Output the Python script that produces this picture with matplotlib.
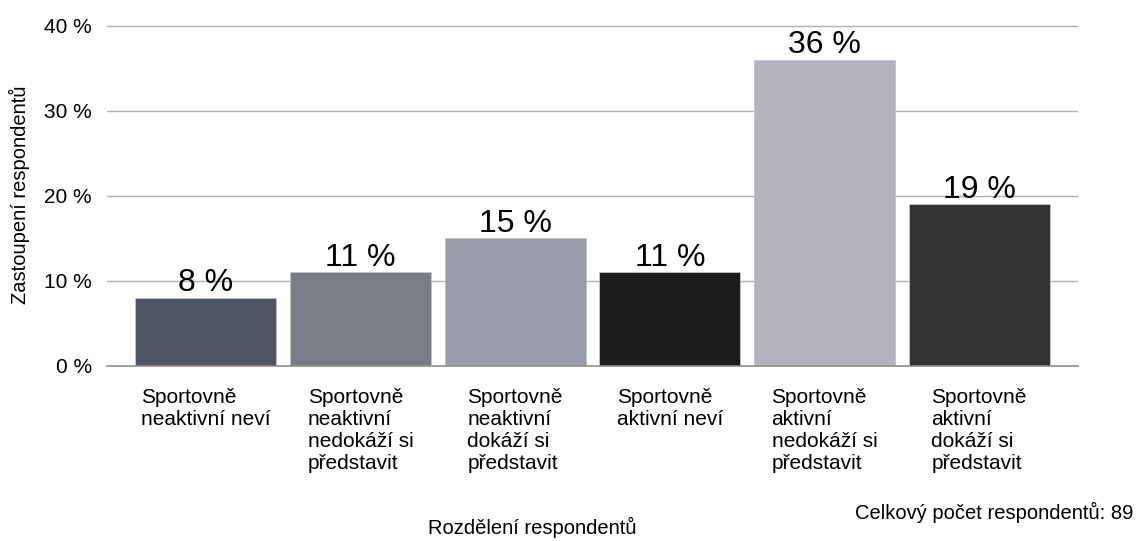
import matplotlib
matplotlib.use("Agg")
import matplotlib.pyplot as plt

plt.rcParams['font.family'] = ['Liberation Sans', 'DejaVu Sans']

# data
categories = [
    "Sportovně\nneaktivní neví",
    "Sportovně\nneaktivní\nnedokáží si\npředstavit",
    "Sportovně\nneaktivní\ndokáží si\npředstavit",
    "Sportovně\naktivní neví",
    "Sportovně\naktivní\nnedokáží si\npředstavit",
    "Sportovně\naktivní\ndokáží si\npředstavit",
]
shares = [8, 11, 15, 11, 36, 19]
yticks = [0, 10, 20, 30, 40]
bar_colors = ['#4f5561', '#787d88', '#989ca9', '#1c1c1c', '#b3b3bd', '#333333']
total_respondents = 89

fig = plt.figure(figsize=(11.37, 5.41), dpi=100)
ax = fig.add_axes([0.0941, 0.3235, 0.8540, 0.6332])

x = list(range(len(categories)))
ax.bar(x, shares, width=0.912, color=bar_colors, edgecolor='#c4c4c4',
       linewidth=0.6, zorder=3)

for xi, v in zip(x, shares):
    ax.annotate(f"{v} %", (xi, v), xytext=(0, 5), textcoords='offset points',
                ha='center', va='baseline', fontsize=23, zorder=4)

ax.set_xlim(-0.64, len(categories) - 1 + 0.64)
ax.set_ylim(0, 40.3)
ax.set_yticks(yticks)
ax.set_yticklabels([f"{t} %" for t in yticks], fontsize=15)
ax.set_xticks(x)
ax.set_xticklabels(categories, fontsize=15, linespacing=1.2,
                   multialignment='left')
ax.tick_params(axis='both', length=0)
ax.tick_params(axis='y', pad=11)
ax.tick_params(axis='x', pad=16)

ax.yaxis.grid(True, color='#b0b0b0', linewidth=1.0, zorder=0)
for side in ['top', 'right', 'left']:
    ax.spines[side].set_visible(False)
ax.spines['bottom'].set_color('#8e8e8e')
ax.spines['bottom'].set_linewidth(1.2)
ax.spines['bottom'].set_zorder(5)

ax.set_ylabel("Zastoupení respondentů", fontsize=14.5)
ax.yaxis.set_label_coords(-0.079, 0.5)

fig.text(532 / 1137, 1 - 527 / 541, "Rozdělení respondentů", fontsize=14.5,
         ha='center', va='center')
fig.text(1133 / 1137, 1 - 512 / 541, f"Celkový počet respondentů: {total_respondents}",
         fontsize=14.5, ha='right', va='center')

fig.savefig("out.png", dpi=100)
